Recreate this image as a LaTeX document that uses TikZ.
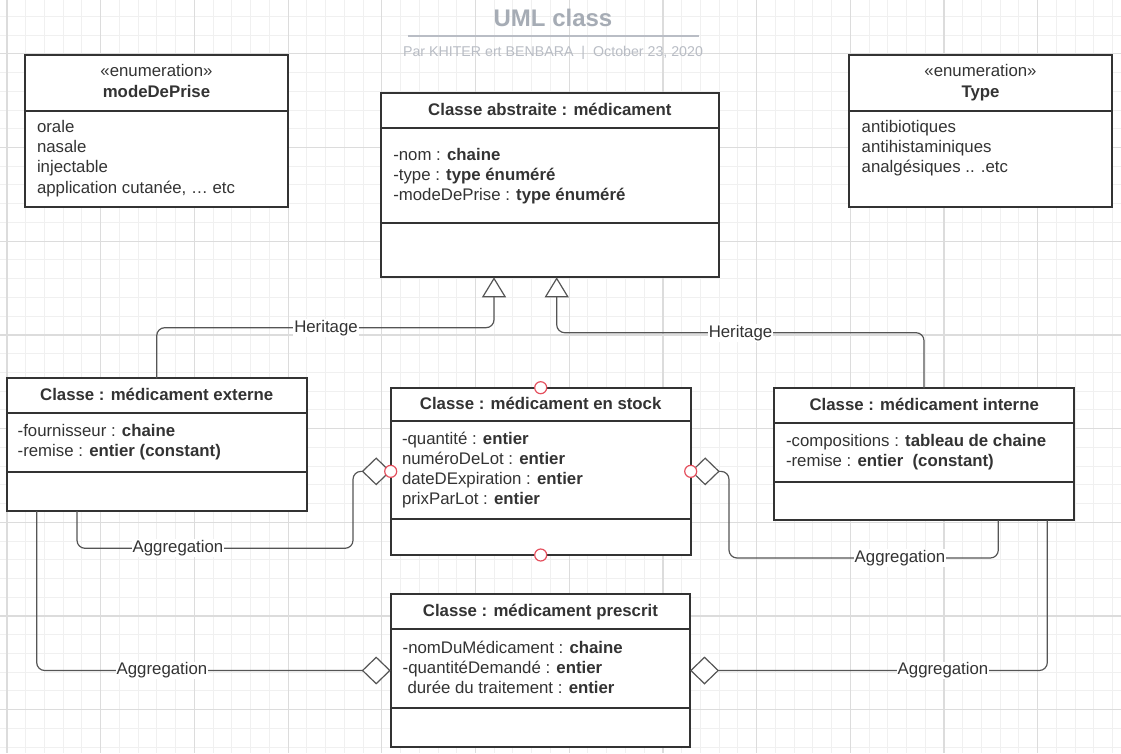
\documentclass[tikz,border=0pt]{standalone}
\usepackage{fontspec}
\setmainfont{Liberation Sans}
\usetikzlibrary{arrows.meta}
\definecolor{txt}{HTML}{333333}
\definecolor{bordercol}{HTML}{333333}
\definecolor{conncol}{HTML}{555555}
\definecolor{gridminor}{HTML}{F0F0F0}
\definecolor{gridmajor}{HTML}{DCDCDC}
\definecolor{titlec}{HTML}{A6ACB5}
\definecolor{subc}{HTML}{B9BDC5}
\definecolor{ptred}{HTML}{E5505E}
\begin{document}
\begin{tikzpicture}[x=1pt,y=-1pt,
  every node/.style={inner sep=0pt, outer sep=0pt},
  box/.style={draw=bordercol, line width=2pt, fill=white, rectangle, anchor=north west},
  divider/.style={draw=bordercol, line width=2pt},
  hd/.style={font=\fontsize{16.8}{20}\selectfont\bfseries, text=txt, anchor=base},
  ln/.style={font=\fontsize{16.8}{20}\selectfont, text=txt, anchor=base west},
  link/.style={draw=conncol, line width=1.2pt, rounded corners=8pt},
  inh/.style={link, -{Triangle[length=20pt, width=24pt, fill=white]}},
  agg/.style={link, -{Diamond[length=29pt, width=28pt, fill=white]}},
  lbl/.style={font=\fontsize{16.8}{20}\selectfont, text=txt, fill=white, inner sep=1pt},
  ptc/.style={circle, minimum size=12pt, draw=ptred, fill=white, line width=1.2pt}
]
% background and grid
\fill[white] (0,0) rectangle (1121,753);
\useasboundingbox (0,0) rectangle (1121,753);
\foreach \i in {0,...,59} {\pgfmathsetmacro\xx{7+18.74*\i}\draw[gridminor, line width=1pt] (\xx,0) -- (\xx,753);}
\foreach \i in {0,...,39} {\pgfmathsetmacro\yy{16.32+18.74*\i}\draw[gridminor, line width=1pt] (0,\yy) -- (1121,\yy);}
\foreach \i in {0,...,11} {\pgfmathsetmacro\xx{7+93.7*\i}\draw[gridmajor, line width=1.2pt] (\xx,0) -- (\xx,753);}
\foreach \i in {0,...,7} {\pgfmathsetmacro\yy{53.8+93.7*\i}\draw[gridmajor, line width=1.2pt] (0,\yy) -- (1121,\yy);}

% title
\node[font=\fontsize{24}{28}\selectfont\bfseries, text=titlec, anchor=base] (title) at (553,26) {UML class};
\draw[subc, line width=1.5pt] (408,36) -- (699.3,36);
\node[font=\fontsize{14.2}{17}\selectfont, text=subc, anchor=base] (subtitle) at (553,56.5) {Par KHITER ert BENBARA\hspace{8pt}|\hspace{8pt}October 23, 2020};

% enumeration modeDePrise
\node[box, minimum width=263pt, minimum height=152pt] (mode) at (25,55) {};
\draw[divider] (25,110.7) -- (288,110.7);
\node[font=\fontsize{16.8}{20}\selectfont, text=txt, anchor=base] (modest) at (156.5,76) {«enumeration»};
\node[hd] (modehd) at (156.5,97) {modeDePrise};
\node[ln] (mode1) at (37,132.5) {orale};
\node[ln] (mode2) at (37,152.7) {nasale};
\node[ln] (mode3) at (37,172.9) {injectable};
\node[ln] (mode4) at (37,193.1) {application cutanée, … etc};

% enumeration Type
\node[box, minimum width=263pt, minimum height=152pt] (typ) at (849,55) {};
\draw[divider] (849,110.7) -- (1112,110.7);
\node[font=\fontsize{16.8}{20}\selectfont, text=txt, anchor=base] (typst) at (980.5,76) {«enumeration»};
\node[hd] (typhd) at (980.5,97) {Type};
\node[ln] (typ1) at (861.7,132.5) {antibiotiques};
\node[ln] (typ2) at (861.7,152.7) {antihistaminiques};
\node[ln] (typ3) at (861.7,172.9) {analgésiques .. .etc};

% abstract class
\node[box, minimum width=337.7pt, minimum height=184.6pt] (abs) at (381,92.7) {};
\draw[divider] (381,127.7) -- (718.7,127.7);
\draw[divider] (381,223.3) -- (718.7,223.3);
\node[hd] (abshd) at (549.9,115) {Classe abstraite : médicament};
\node[ln] (abs1) at (393.3,160) {-nom : \textbf{chaine}};
\node[ln] (abs2) at (393.3,180) {-type : \textbf{type énuméré}};
\node[ln] (abs3) at (393.3,200) {-modeDePrise : \textbf{type énuméré}};

% externe
\node[box, minimum width=300pt, minimum height=132.7pt] (ext) at (6.7,378.3) {};
\draw[divider] (6.7,413.3) -- (306.7,413.3);
\draw[divider] (6.7,472.3) -- (306.7,472.3);
\node[hd] (exthd) at (156.7,400) {Classe : médicament externe};
\node[ln] (ext1) at (17.7,436.5) {-fournisseur : \textbf{chaine}};
\node[ln] (ext2) at (17.7,456.5) {-remise : \textbf{entier (constant)}};

% stock
\node[box, minimum width=300pt, minimum height=167.3pt] (stk) at (390.7,387.7) {};
\draw[divider] (390.7,421.3) -- (690.7,421.3);
\draw[divider] (390.7,519) -- (690.7,519);
\node[hd] (stkhd) at (540.7,409.5) {Classe : médicament en stock};
\node[ln] (stk1) at (402,444) {-quantité : \textbf{entier}};
\node[ln] (stk2) at (402,464.3) {numéroDeLot : \textbf{entier}};
\node[ln] (stk3) at (402,484.6) {dateDExpiration : \textbf{entier}};
\node[ln] (stk4) at (402,504.9) {prixParLot : \textbf{entier}};

% interne
\node[box, minimum width=300.3pt, minimum height=132pt] (int) at (774,388.3) {};
\draw[divider] (774,423.3) -- (1074.3,423.3);
\draw[divider] (774,482) -- (1074.3,482);
\node[hd] (inthd) at (924.2,410) {Classe : médicament interne};
\node[ln] (int1) at (786,446.7) {-compositions : \textbf{tableau de chaine}};
\node[ln] (int2) at (786,466.7) {-remise : \textbf{entier\ \ (constant)}};

% prescrit
\node[box, minimum width=299.3pt, minimum height=152.4pt] (pre) at (390.7,594.3) {};
\draw[divider] (390.7,629.3) -- (690,629.3);
\draw[divider] (390.7,707.7) -- (690,707.7);
\node[hd] (prehd) at (540.4,616) {Classe : médicament prescrit};
\node[ln] (pre1) at (402.7,653.3) {-nomDuMédicament : \textbf{chaine}};
\node[ln] (pre2) at (402.7,673.3) {-quantitéDemandé : \textbf{entier}};
\node[ln] (pre3) at (407.5,693.3) {durée du traitement : \textbf{entier}};

% inheritance connectors
\draw[inh] ([xshift=150pt]ext.north west) |- (494,327.7) -- ([xshift=113pt]abs.south west);
\draw[inh] ([xshift=150pt]int.north west) |- (556.7,332.7) -- ([xshift=175.7pt]abs.south west);
\node[lbl] (her1) at (326,327.7) {Heritage};
\node[lbl] (her2) at (740.5,332.7) {Heritage};

% aggregation connectors
\draw[agg] ([xshift=70.3pt]ext.south west) |- (353,548.3) |- (stk.west);
\draw[agg] ([xshift=224.3pt]int.south west) |- (729,558) |- (stk.east);
\draw[agg] ([xshift=30pt]ext.south west) |- (pre.west);
\draw[agg] ([xshift=273.3pt]int.south west) |- (pre.east);
\node[lbl] (agg1) at (178,548.3) {Aggregation};
\node[lbl] (agg2) at (900,558) {Aggregation};
\node[lbl] (agg3) at (162,670.5) {Aggregation};
\node[lbl] (agg4) at (943,670.5) {Aggregation};

% connection points
\node[ptc] (pt1) at (stk.north) {};
\node[ptc] (pt2) at (stk.south) {};
\node[ptc] (pt3) at (stk.west) {};
\node[ptc] (pt4) at (stk.east) {};
\end{tikzpicture}
\end{document}
